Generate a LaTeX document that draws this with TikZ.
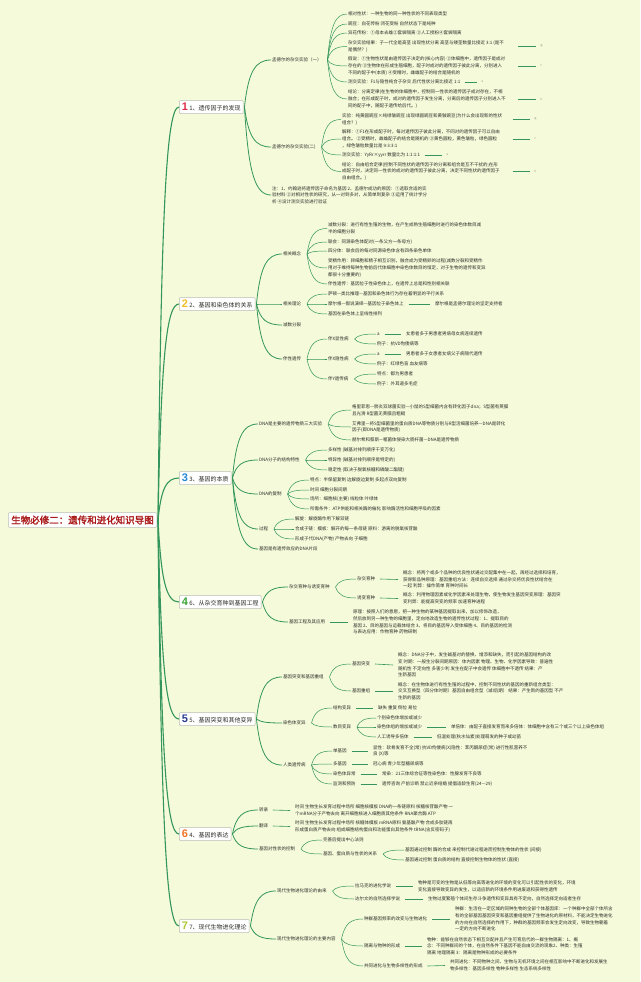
\documentclass[tikz,border=0pt]{standalone}
\usepackage{fontspec}
\setmainfont{Noto Sans CJK SC}[AutoFakeBold=2]
\newfontfamily\numfont{Liberation Sans}
\usetikzlibrary{calc}
\definecolor{bg}{RGB}{244,250,218}
\definecolor{lc}{RGB}{52,150,92}
\definecolor{txt}{RGB}{45,45,40}
\definecolor{boxln}{RGB}{185,190,180}
\definecolor{rootc}{RGB}{170,25,25}
\definecolor{n1}{RGB}{226,45,75}
\definecolor{n2}{RGB}{240,190,40}
\definecolor{n3}{RGB}{35,135,215}
\definecolor{n4}{RGB}{55,165,50}
\definecolor{n5}{RGB}{40,60,145}
\definecolor{n6}{RGB}{240,115,35}
\definecolor{n7}{RGB}{175,200,50}
\newcommand\lfs{\fontsize{4.5}{6.7}\selectfont}
\newcommand\bnum[2]{{\numfont\bfseries\fontsize{11}{11}\selectfont\color{#1}#2}\hspace{1.5pt}}
\newcommand\cv[3][l2]{\draw[#1] let \p1=([xshift=5pt]#2.east), \p2=(#3.west) in (\p1) .. controls ({\x1+0.15*(\x2-\x1)},{\y1+0.75*(\y2-\y1)}) and ({\x1+0.4*(\x2-\x1)},\y2) .. (\p2);}
\newcommand\cvb[3][l1]{\draw[#1] let \p1=([xshift=1pt]#2.east), \p2=(#3.west) in (\p1) .. controls ({\x1+0.15*(\x2-\x1)},{\y1+0.75*(\y2-\y1)}) and ({\x1+0.4*(\x2-\x1)},\y2) .. (\p2);}
\newcommand\dsh[2]{\draw[dl] ([xshift=4pt]#1.east) -- ([xshift=-4pt]#2.west);}
\tikzset{
 lf/.style={anchor=west, align=left, font=\lfs, text=txt, inner sep=1pt, outer sep=0pt},
 tinylab/.style={anchor=west, font=\fontsize{3}{3}\selectfont, text=txt!70, inner sep=0.5pt},
 mbox/.style={anchor=west, draw=boxln, line width=0.5pt, fill=white, rounded corners=1pt, inner xsep=2.5pt, inner ysep=1pt, minimum height=13pt, font=\fontsize{6}{7}\selectfont, text=txt},
 rootbox/.style={anchor=west, draw=boxln, line width=0.5pt, fill=white, rounded corners=1pt, inner xsep=3pt, inner ysep=3pt, font=\fontsize{9.5}{10}\selectfont\bfseries, text=rootc},
 l0/.style={draw=lc, line width=1.1pt},
 l1/.style={draw=lc, line width=0.8pt},
 l2/.style={draw=lc, line width=0.5pt},
 dl/.style={draw=lc, line width=0.6pt},
}
\begin{document}
\begin{tikzpicture}[x=1pt,y=-1pt]
\fill[bg] (0,0) rectangle (640,982);
\useasboundingbox (0,0) rectangle (640,982);

% ---------- root and main boxes ----------
\node[rootbox] (root) at (8,520) {生物必修二：遗传和进化知识导图};
\node[mbox] (b1) at (179,107) {\bnum{n1}{1}1、遗传因子的发现};
\node[mbox] (b2) at (179,304) {\bnum{n2}{2}2、基因和染色体的关系};
\node[mbox] (b3) at (179,478) {\bnum{n3}{3}3、基因的本质};
\node[mbox] (b4) at (179,602) {\bnum{n4}{4}6、从杂交育种到基因工程};
\node[mbox] (b5) at (179,719) {\bnum{n5}{5}5、基因突变和其他变异};
\node[mbox] (b6) at (179,834) {\bnum{n6}{6}4、基因的表达};
\node[mbox] (b7) at (179,926) {\bnum{n7}{7}7、现代生物进化理论};
\foreach \b in {b1,b2,b3,b4,b5,b6,b7} {\cvb[l0]{root}{\b}}

% ---------- section 1 ----------
\node[lf] (s11) at (271,60) {孟德尔的杂交实验（一）};
\node[lf] (s12) at (271,147) {孟德尔的杂交实验(二)};
\node[lf] (s13) at (271,195) {注：1、约翰逊将遗传因子命名为基因 2、孟德尔成功的原因：①选取合适的实\\验材料 ②对相对性状的研究，从一对到多对，从简单到复杂 ③运用了统计学分\\析 ④设计测交实验进行验证};
\foreach \s in {s11,s12,s13} {\cvb{b1}{\s}}

\node[lf] (a1) at (347,14) {相对性状：一种生物的同一种性状的不同表现类型};
\node[lf] (a2) at (347,24) {豌豆：自花传粉 闭花受粉 自然状态下是纯种};
\node[lf] (a3) at (347,33) {异花传粉：①母本去雄②套袋隔离 ③人工授粉④套袋隔离};
\node[lf] (a4) at (347,46.5) {杂交实验结果：子一代全是高茎 出现性状分离 高茎与矮茎数量比接近 3:1 (是不\\是偶然？)};
\node[lf] (a5) at (347,66) {假说：①生物性状是由遗传因子决定的(核心内容) ②体细胞中，遗传因子是成对\\存在的 ③生物体在形成生殖细胞，配子时成对的遗传因子彼此分离，分别进入\\不同的配子中(本质) ④受精时，雌雄配子的结合是随机的};
\node[lf] (a6) at (347,82) {测交实验：F1与隐性纯合子杂交 后代性状分离比接近 1:1};
\node[lf] (a7) at (347,99) {结论：分离定律(在生物的体细胞中，控制同一性状的遗传因子成对存在，不相\\融合；在形成配子时，成对的遗传因子发生分离，分离后的遗传因子分别进入不\\同的配子中，随配子遗传给后代。)};
\foreach \s in {a1,a2,a3,a4,a5,a6,a7} {\cv{s11}{\s}}
\node[tinylab] (qa) at (540,46) {q};
\node[tinylab] (ra) at (540,66) {r};
\node[tinylab] (sa) at (481,82) {s};
\node[tinylab] (ta) at (540,99) {t};
\coordinate (da4) at (518,46); \draw[dl] (da4) -- ([xshift=-4pt]qa.west);
\coordinate (da5) at (518,66); \draw[dl] (da5) -- ([xshift=-4pt]ra.west);
\dsh{a6}{sa}
\coordinate (da7) at (518,99); \draw[dl] (da7) -- ([xshift=-4pt]ta.west);

\node[lf] (c1) at (341,119.5) {实验：纯黄圆豌豆×纯绿皱豌豆 出现绿圆豌豆和黄皱豌豆(为什么会出现新的性状\\组合？)};
\node[lf] (c2) at (341,139) {解释：①F1在形成配子时，每对遗传因子彼此分离，不同对的遗传因子可以自由\\组合。 ②受精时，雌雄配子的结合是随机的 ③黄色圆粒，黄色皱粒，绿色圆粒\\，绿色皱粒数量比是 9:3:3:1};
\node[lf] (c3) at (341,155) {测交实验：YyRr×yyrr 数量比为 1:1:1:1};
\node[lf] (c4) at (341,171.5) {结论：自由组合定律(控制不同性状的遗传因子的分离和组合是互不干扰的;在形\\成配子时，决定同一性状的成对的遗传因子彼此分离，决定不同性状的遗传因子\\自由组合。)};
\foreach \s in {c1,c2,c3,c4} {\cv{s12}{\s}}
\node[tinylab] (qc) at (534,119) {q};
\node[tinylab] (rc) at (534,139) {r};
\node[tinylab] (sc) at (446,155) {s};
\node[tinylab] (tc) at (534,171) {t};
\coordinate (dc1) at (513,119); \draw[dl] (dc1) -- ([xshift=-4pt]qc.west);
\coordinate (dc2) at (513,139); \draw[dl] (dc2) -- ([xshift=-4pt]rc.west);
\dsh{c3}{sc}
\coordinate (dc4) at (513,171); \draw[dl] (dc4) -- ([xshift=-4pt]tc.west);

% ---------- section 2 ----------
\node[lf] (s21) at (282,254) {相关概念};
\node[lf] (s22) at (282,304) {相关理论};
\node[lf] (s23) at (282,325) {减数分裂};
\node[lf] (s24) at (282,359) {伴性遗传};
\foreach \s in {s21,s22,s23,s24} {\cvb{b2}{\s}}

\node[lf] (e1) at (327,228.5) {减数分裂：进行有性生殖的生物，在产生成熟生殖细胞时进行的染色体数目减\\半的细胞分裂};
\node[lf] (e2) at (327,242) {联会：同源染色体配对(一条父方一条母方)};
\node[lf] (e3) at (327,251) {四分体：联会后的每对同源染色体含有四条染色单体};
\node[lf] (e4) at (327,268) {受精作用：卵细胞和精子相互识别，融合成为受精卵的过程(减数分裂和受精作\\用对于维持每种生物前后代体细胞中染色体数目的恒定，对于生物的遗传和变异\\都很十分重要的)};
\node[lf] (e5) at (327,284) {伴性遗传：基因位于性染色体上，在遗传上总是和性别相关联};
\foreach \s in {e1,e2,e3,e4,e5} {\cv{s21}{\s}}

\node[lf] (f1) at (327,294) {萨顿—类比推理—基因和染色体行为存在着明显的平行关系};
\node[lf] (f2) at (327,304) {摩尔根—假说演绎—基因位于染色体上};
\node[lf] (f3) at (327,314) {基因在染色体上呈线性排列};
\foreach \s in {f1,f2,f3} {\cv{s22}{\s}}
\node[lf] (f2b) at (434,304) {摩尔根是孟德尔理论的坚定支持者};
\dsh{f2}{f2b}

\node[lf] (g1) at (327,339) {伴X显性病};
\node[lf] (g2) at (327,359) {伴X隐性病};
\node[lf] (g3) at (327,379) {伴Y遗传病};
\foreach \s in {g1,g2,g3} {\cv{s24}{\s}}
\node[lf] (g11) at (376,334) {a};
\node[lf] (g11b) at (405,334) {女患者多于男患者男病母女病连续遗传};
\node[lf] (g12) at (376,344) {例子：抗VD佝偻病等};
\dsh{g11}{g11b}
\foreach \s in {g11,g12} {\cv{g1}{\s}}
\node[lf] (g21) at (376,354) {a};
\node[lf] (g21b) at (405,354) {男患者多于女患者女病父子病隔代遗传};
\node[lf] (g22) at (376,364) {例子：红绿色盲 血友病等};
\dsh{g21}{g21b}
\foreach \s in {g21,g22} {\cv{g2}{\s}}
\node[lf] (g31) at (376,374) {特点：都为男患者};
\node[lf] (g32) at (376,384) {例子：外耳道多毛症};
\foreach \s in {g31,g32} {\cv{g3}{\s}}

% ---------- section 3 ----------
\node[lf] (s31) at (258,424) {DNA是主要的遗传物质三大实验};
\node[lf] (s32) at (258,460) {DNA分子的结构特性};
\node[lf] (s33) at (258,494) {DNA的复制};
\node[lf] (s34) at (258,529) {过程};
\node[lf] (s35) at (258,549) {基因是有遗传效应的DNA片段};
\foreach \s in {s31,s32,s33,s34,s35} {\cvb{b3}{\s}}

\node[lf] (h1) at (351,410) {格里菲思—肺炎双球菌实验—小鼠的S型细菌内含有转化因子dna；S型菌有荚膜\\且光滑 R型菌无荚膜且粗糙};
\node[lf] (h2) at (351,427) {艾弗里—将S型细菌里的蛋白质DNA等物质分别与R型活细菌培养—DNA是转化\\因子(即DNA是遗传物质)};
\node[lf] (h3) at (351,440) {赫尔希和蔡斯—噬菌体侵染大肠杆菌—DNA是遗传物质};
\foreach \s in {h1,h2,h3} {\cv{s31}{\s}}
\node[lf] (i1) at (327,450) {多样性 (碱基对排列顺序千变万化)};
\node[lf] (i2) at (327,460) {特异性 (碱基对排列顺序是特定的)};
\node[lf] (i3) at (327,470) {稳定性 (取决于脱氧核糖和磷酸二酯键)};
\foreach \s in {i1,i2,i3} {\cv{s32}{\s}}
\node[lf] (j1) at (309,480) {特点：半保留复制 边解旋边复制 多起点双向复制};
\node[lf] (j2) at (309,490) {时间 细胞分裂间期};
\node[lf] (j3) at (309,499) {场所：细胞核(主要) 线粒体 叶绿体};
\node[lf] (j4) at (309,509) {所需条件：ATP供能和相关酶的催化 影响酶活性和细胞呼吸的因素};
\foreach \s in {j1,j2,j3,j4} {\cv{s33}{\s}}
\node[lf] (k1) at (294,519) {解旋：解旋酶作用下解双链};
\node[lf] (k2) at (294,529) {合成子链：模板：解开的每一条母链 原料：游离的脱氧核苷酸};
\node[lf] (k3) at (294,539) {形成子代DNA(产物) 产物去向 子细胞};
\foreach \s in {k1,k2,k3} {\cv{s34}{\s}}

% ---------- section 4 (box "6") ----------
\node[lf] (s41) at (288,587) {杂交育种与诱变育种};
\node[lf] (s42) at (288,622) {基因工程及其应用};
\foreach \s in {s41,s42} {\cvb{b4}{\s}}
\node[lf] (m1) at (356,579) {杂交育种};
\node[lf] (m2) at (356,598) {诱变育种};
\foreach \s in {m1,m2} {\cv{s41}{\s}}
\node[lf] (m1b) at (402,579.5) {概念：将两个或多个品种的优良性状通过交配集中在一起，再经过选择和培育，\\获得新品种原理：基因重组方法：连续自交选择 通过杂交将优良性状结合在\\一起 利弊：操作简单 育种时间长};
\node[lf] (m2b) at (402,598.5) {概念：利用物理因素或化学因素来处理生物，使生物发生基因突变原理：基因突\\变利弊：能提高突变的频率 加速育种进程};
\dsh{m1}{m1b}
\dsh{m2}{m2b}
\node[lf] (m3) at (352,622) {原理：按照人们的意愿，把一种生物的某种基因提取出来，加以修饰改造，\\然后放到另一种生物的细胞里，定向地改造生物的遗传性状过程：1、提取目的\\基因 2、目的基因与运载体结合 3、将目的基因导入受体细胞 4、目的基因的检测\\与表达应用：作物育种 药物研制};
\dsh{s42}{m3}

% ---------- section 5 ----------
\node[lf] (s51) at (282,677) {基因突变和基因重组};
\node[lf] (s52) at (282,723) {染色体变异};
\node[lf] (s53) at (282,765) {人类遗传病};
\foreach \s in {s51,s52,s53} {\cvb{b5}{\s}}
\node[lf] (p1) at (351,664) {基因突变};
\node[lf] (p2) at (351,691) {基因重组};
\foreach \s in {p1,p2} {\cv{s51}{\s}}
\node[lf] (p1b) at (397,665) {概念：DNA分子中，发生碱基对的替换、增添和缺失，而引起的基因结构的改\\变 时期：一般生分裂间期原因：体内因素 物理、生物、化学因素导致：普遍性\\随机性 不定向性 多害少利 发生在配子中会遗传 体细胞中不遗传 结果：产\\生新基因};
\node[lf] (p2b) at (397,691) {概念：在生物体进行有性生殖的过程中，控制不同性状的基因的重新组合类型：\\交叉互换型（四分体时期）基因自由组合型（减I后期） 结果：产生新的基因型 不产\\生新的基因};
\dsh{p1}{p1b}
\dsh{p2}{p2b}
\node[lf] (r1) at (332,708) {结构变异};
\node[lf] (r2) at (332,727) {数目变异};
\foreach \s in {r1,r2} {\cv{s52}{\s}}
\node[lf] (r1b) at (377,708) {缺失 重复 倒位 易位};
\dsh{r1}{r1b}
\node[lf] (r21) at (376,718) {个别染色体增加或减少};
\node[lf] (r22) at (376,727) {染色体组的增加或减少};
\node[lf] (r23) at (376,737) {人工诱导多倍体};
\foreach \s in {r21,r22,r23} {\cv{r2}{\s}}
\node[lf] (r22b) at (450,727) {单倍体：由配子直接发育而来多倍体：体细胞中含有三个或三个以上染色体组};
\node[lf] (r23b) at (436,737) {低温处理(秋水仙素)处理萌发的种子或幼苗};
\dsh{r22}{r22b}
\dsh{r23}{r23b}
\node[lf] (t1) at (332,751) {单基因};
\node[lf] (t2) at (332,764) {多基因};
\node[lf] (t3) at (332,774) {染色体异常};
\node[lf] (t4) at (332,784) {监测和预防};
\foreach \s in {t1,t2,t3,t4} {\cv{s53}{\s}}
\node[lf] (t1b) at (372,751) {显性：软骨发育不全(常) 抗VD佝偻病(X)隐性：苯丙酮尿症(常) 进行性肌营养不\\良 (X)等};
\node[lf] (t2b) at (372,764) {冠心病 青少年型糖尿病等};
\node[lf] (t3b) at (381,774) {常染：21三体综合征等性染色体：性腺发育不良等};
\node[lf] (t4b) at (381,784) {遗传咨询 产前诊断 禁止近亲结婚 提倡适龄生育(24—29)};
\dsh{t1}{t1b}
\dsh{t2}{t2b}
\dsh{t3}{t3b}
\dsh{t4}{t4b}

% ---------- section 6 (box "4") ----------
\node[lf] (s61) at (258,810) {转录};
\node[lf] (s62) at (258,826) {翻译};
\node[lf] (s63) at (258,849) {基因对性状的控制};
\foreach \s in {s61,s62,s63} {\cvb{b6}{\s}}
\node[lf] (u1) at (294,810.5) {时间 生物生长发育过程中场所 细胞核模板 DNA的一条链原料 核糖核苷酸产物 一\\个mRNA分子产物去向 离开细胞核进入细胞质其他条件 RNA聚合酶 ATP};
\node[lf] (u2) at (294,826.5) {时间 生物生长发育过程中场所 核糖体模板 mRNA原料 氨基酸产物 合成多肽链再\\形成蛋白质产物去向 组成细胞结构蛋白和功能蛋白其他条件 tRNA(含反密码子)};
\dsh{s61}{u1}
\dsh{s62}{u2}
\node[lf] (v1) at (322,840) {完善后提出中心法则};
\node[lf] (v2) at (322,854) {基因、蛋白质与性状的关系};
\foreach \s in {v1,v2} {\cv{s63}{\s}}
\node[lf] (v21) at (404,850) {基因通过控制 酶的合成 来控制代谢过程进而控制生物体的性状 (间接)};
\node[lf] (v22) at (404,860) {基因通过控制 蛋白质的结构 直接控制生物体的性状 (直接)};
\foreach \s in {v21,v22} {\cv{v2}{\s}}

% ---------- section 7 ----------
\node[lf] (s71) at (276,891) {现代生物进化理论的由来};
\node[lf] (s72) at (276,939) {现代生物进化理论的主要内容};
\foreach \s in {s71,s72} {\cvb{b7}{\s}}
\node[lf] (w1) at (354,886) {拉马克的进化学说};
\node[lf] (w2) at (354,899) {达尔文的自然选择学说};
\foreach \s in {w1,w2} {\cv{s71}{\s}}
\node[lf] (w1b) at (417,886) {物种是可变的生物是从低等向高等进化的环境的变化可以引起性状的变化，环境\\变化直接导致变异的发生，以适应新的环境条件用进废退和获得性遗传};
\node[lf] (w2b) at (427,899) {生物过度繁殖个体间生存斗争遗传和变异具有不定向，自然选择定向适者生存};
\dsh{w1}{w1b}
\dsh{w2}{w2b}
\node[lf] (x1) at (363,919) {种群基因频率的改变与生物进化};
\node[lf] (x2) at (363,946) {隔离与物种的形成};
\node[lf] (x3) at (363,966) {共同进化与生物多样性的形成};
\foreach \s in {x1,x2,x3} {\cv{s72}{\s}}
\node[lf] (x1b) at (454,919) {种群：生活在一定区域的同种生物的全部个体基因库：一个种群中全部个体所含\\有的全部基因基因突变和基因重组提供了生物进化的原材料，不能决定生物进化\\的方向在自然选择的作用下，种群的基因频率会发生定向改变，导致生物朝着\\一定的方向不断进化};
\node[lf] (x2b) at (426,946) {物种：能够在自然状态下相互交配并且产生可育后代的一群生物隔离：1、概\\念：不同种群间的个体，在自然条件下基因不能自由交流的现象2、种类：生殖\\隔离 地理隔离 3：隔离是物种形成的必要条件};
\node[lf] (x3b) at (449,965.5) {共同进化：不同物种之间、生物与无机环境之间在相互影响中不断进化和发展生\\物多样性：基因多样性 物种多样性 生态系统多样性};
\dsh{x1}{x1b}
\dsh{x2}{x2b}
\dsh{x3}{x3b}
\end{tikzpicture}
\end{document}
